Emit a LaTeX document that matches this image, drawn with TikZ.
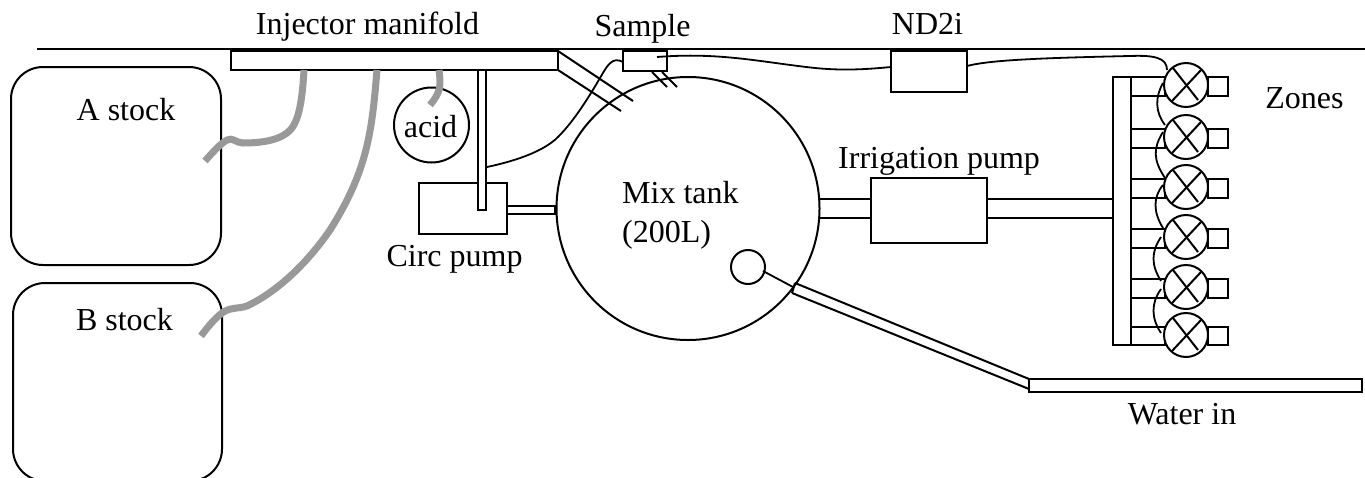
\documentclass[tikz,border=0pt]{standalone}
\usepackage{fontspec}
\usetikzlibrary{calc}
\setmainfont{Liberation Serif}
\tikzset{
  ln/.style={line width=2pt,black,line cap=butt},
  wire/.style={line width=1.8pt,black},
  tube/.style={line width=7pt,draw=black!40,line cap=butt},
  part/.style={draw=black,line width=2pt,fill=white,inner sep=0pt,outer sep=0pt,rectangle,minimum width=#1},
  part/.default=10pt,
  round/.style={draw=black,line width=2pt,circle,inner sep=0pt,outer sep=0pt,minimum size=#1},
  stock/.style={draw=black,line width=2pt,rectangle,rounded corners=32pt,inner sep=0pt,outer sep=0pt},
  lab/.style={font=\fontsize{32}{36}\selectfont,anchor=base,inner sep=0pt,align=center},
}
\newcommand{\boxat}[5]{\node[part=#4*1pt,minimum height=#5*1pt,anchor=north west] (#1) at (#2,#3) {};}
\begin{document}
\begin{tikzpicture}[x=1pt,y=-1pt]
\useasboundingbox (0,0) rectangle (1365,477);
\clip (0,0) rectangle (1365,477);
% top line
\coordinate (topL) at (37,49); \coordinate (topR) at (1365,49);
\draw[line width=2.2pt] (topL) -- (topR);
% stocks
\node[stock,anchor=north west,minimum width=210pt,minimum height=198pt] (astock) at (11,67) {};
\node[stock,anchor=north west,minimum width=209pt,minimum height=198pt] (bstock) at (13,283) {};
% tank
\node[round=263pt] (tank) at (688,208.5) {};
\node[round=34pt] (float) at (748,267) {};
\node[round=75pt] (acid) at (431.5,125) {};
% circ pump
\boxat{circ}{419}{183}{88}{51}
% manifold
\boxat{manifold}{231}{50.5}{327}{19.5}
% vertical pipe
\boxat{vpipe}{478}{70}{8}{139.5}
\boxat{cpipe}{507}{206}{48}{8}
% diagonal pipe
\coordinate (dA) at (558,51); \coordinate (dB) at (633,101);
\coordinate (dC) at (558,70); \coordinate (dD) at (621,111);
\draw[ln] (dA) -- (dB) (dC) -- (dD);
% sample, ND2i
\boxat{sample}{623}{50.5}{44}{20.5}
\boxat{nd}{891}{50.5}{76}{41.5}
\coordinate (sa) at (652,72); \coordinate (sb) at (667,87);
\coordinate (sc) at (662,72); \coordinate (sd) at (677,87);
\draw[ln] (sa) -- (sb) (sc) -- (sd);
% sample wires
\coordinate (w0) at (487,167);
\coordinate (w1) at (623,62);
\draw[wire] (w0) .. controls (520,160) and (545,150) .. (558,137)
  .. controls (575,120) and (590,95) .. (600,78)
  .. controls (607,66) and (612,56) .. (w1);
\coordinate (w2) at (657,57);
\coordinate (w2b) at (891,67);
\draw[wire] (w2) .. controls (720,52) and (760,62) .. (815,68)
  .. controls (845,71) and (870,69) .. (w2b);
\coordinate (w3a) at (967,66);
\coordinate (w3) at (1167,70);
\draw[wire] (w3a) .. controls (990,60) and (1040,58) .. (1130,56)
  .. controls (1155,55) and (1167,58) .. (w3);
% gray tubes
\coordinate (ta) at (304,70); \coordinate (tb) at (205,161);
\draw[tube] (ta) .. controls (302,105) and (298,125) .. (287,133)
  .. controls (275,142) and (255,143) .. (243,143)
  .. controls (236,143) and (233,137) .. (227,140)
  .. controls (220,144) and (212,153) .. (tb);
\coordinate (tc) at (377,70); \coordinate (td) at (201,336);
\draw[tube] (tc) .. controls (372,130) and (368,170) .. (330,230)
  .. controls (315,252) and (285,288) .. (247,306)
  .. controls (238,309) and (230,307) .. (222,313)
  .. controls (214,319) and (207,328) .. (td);
\coordinate (te) at (439,70); \coordinate (tf) at (430,105);
\draw[tube] (te) .. controls (441,85) and (441,92) .. (tf);
% mix tank pipes
\boxat{ipump}{871}{178}{116}{65}
\coordinate (pa) at (820,199); \coordinate (pb) at (820,218);
\draw[ln] (pa) -- (pa -| ipump.west) (pb) -- (pb -| ipump.west);
\coordinate (pc) at (987,199); \coordinate (pd) at (987,218);
\draw[ln] (pc) -- (1113,199) (pd) -- (1113,218);
% zone manifold
\boxat{zman}{1113}{77}{18}{268}
% float / water pipe
\coordinate (fa) at (763,271); \coordinate (fb) at (793,287);
\draw[wire] (fa) -- (fb);
\boxat{water}{1029}{379}{333}{13}
\coordinate (wa) at (795,283); \coordinate (wb) at (792,293);
\draw[ln] (wa) -- (1029,379) (wb) -- (1029,389) (wa) -- (wb);
% valves
\foreach \n/\yy/\st/\sh in {1/85/77/19,2/137/129/19,3/187/179/19,4/237/229/19,5/287/279/19,6/335/327/18}{
  \boxat{l\n}{1131}{\st}{34}{\sh}
  \boxat{r\n}{1208}{\st}{20}{\sh}
  \node[round=44pt,fill=white] (v\n) at (1186,\yy) {};
  \draw[ln] ($(v\n.center)+(-14,16)$) -- ($(v\n.center)+(15,-15)$);
  \draw[ln] ($(v\n.center)+(-13,-17)$) -- ($(v\n.center)+(12,15)$);
}
% valve wires
\draw[wire] (1163,83) .. controls (1155,97) and (1155,112) .. (1165,125);
\draw[wire] (1163,132) .. controls (1153,148) and (1153,160) .. (1165,178);
\draw[wire] (1163,185) .. controls (1153,197) and (1153,212) .. (1163,228);
\draw[wire] (1161,237) .. controls (1151,252) and (1151,265) .. (1161,281);
\draw[wire] (1161,289) .. controls (1151,303) and (1151,318) .. (1161,333);
% labels
\node[lab] (t1) at (367.5,34) {Injector manifold};
\node[lab] (t2) at (642.5,36) {Sample};
\node[lab] (t3) at (927.5,34) {ND2i};
\node[lab] (t4) at (126,120) {A stock};
\node[lab] (t5) at (124.5,330) {B stock};
\node[lab] (t6) at (430.5,137) {acid};
\node[lab] (t7) at (454.5,266) {Circ pump};
\node[lab,anchor=base west] (t8) at (622,203) {Mix tank};
\node[lab,anchor=base west] (t9) at (622,242) {(200L)};
\node[lab,anchor=base west] (t10) at (838,168) {Irrigation pump};
\node[lab] (t11) at (1304.5,108) {Zones};
\node[lab] (t12) at (1182,424) {Water in};
\end{tikzpicture}
\end{document}
